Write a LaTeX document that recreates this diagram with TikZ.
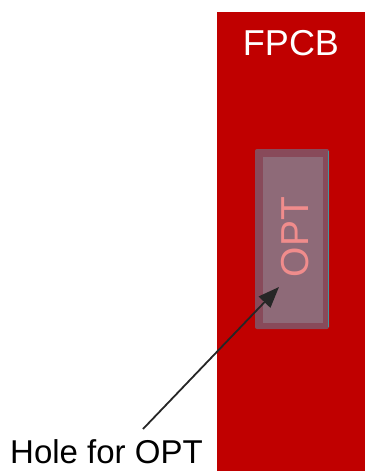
\documentclass[tikz,border=0pt]{standalone}
\usepackage{fontspec}
\setmainfont{Liberation Sans}
\usetikzlibrary{arrows.meta}

\definecolor{fpcbred}{RGB}{192,0,0}
\definecolor{holeedge}{RGB}{136,74,90}
\definecolor{holefill}{RGB}{142,106,120}
\definecolor{optpink}{RGB}{240,140,140}
\definecolor{holeteal}{RGB}{70,150,160}

\tikzset{
  lbl/.style={inner sep=0pt, font=\fontsize{33}{33}\selectfont},
  pointer/.style={-{Triangle[length=21pt,width=16pt]}, line width=1.8pt, draw=black!85}
}

\begin{document}
\begin{tikzpicture}[x=1pt,y=-1pt]

\useasboundingbox (0,0) rectangle (365,471);

% board and hole
\fill[fpcbred](217,12) rectangle (365,471);
\fill[holeedge, rounded corners=2pt](255,149) rectangle (329,329);
\fill[holefill](263,157) rectangle (323,323);
\draw[holeteal, line width=1pt](328,151)--(328,327);

\node[lbl, text=white, anchor=base, font=\fontsize{36}{36}\selectfont] (fpcb) at (291,55){FPCB};
\node[lbl, text=optpink, rotate=90, anchor=base, font=\fontsize{39}{39}\selectfont] (opt) at (308,237){OPT};

\node[lbl, anchor=base west] (hole) at (10,463){Hole for OPT};

\coordinate (tail) at (143,429);
\coordinate (tip) at (279,287);
\draw[pointer](tail)--(tip);

\end{tikzpicture}
\end{document}
